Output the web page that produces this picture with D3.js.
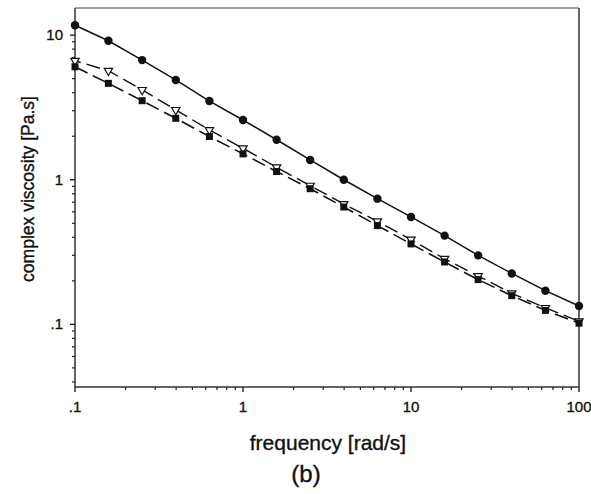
<!DOCTYPE html>
<html>
<head>
<meta charset="utf-8">
<script src="https://cdn.jsdelivr.net/npm/d3@7"></script>
<style>
  body { margin: 0; background: #fff; }
  text { font-family: "Liberation Sans", Arial, sans-serif; fill: #111; stroke: #111; stroke-width: 0.35; }
</style>
</head>
<body>
<div id="chart"></div>
<script>
// frequencies, 5 points per decade
let freq = [0.1, 0.158, 0.251, 0.398, 0.631, 1, 1.585, 2.51, 3.98, 6.31, 10, 15.85, 25.1, 39.8, 63.1, 100];

let circles   = [11.7, 9.14, 6.72, 4.9, 3.5, 2.59, 1.89, 1.37, 1.0, 0.74, 0.553, 0.411, 0.30, 0.225, 0.171, 0.134];
let triangles = [6.65, 5.67, 4.18, 3.04, 2.21, 1.65, 1.22, 0.91, 0.68, 0.516, 0.386, 0.284, 0.216, 0.164, 0.13, 0.105];
let squares   = [6.04, 4.64, 3.52, 2.66, 1.99, 1.51, 1.14, 0.867, 0.648, 0.482, 0.36, 0.27, 0.204, 0.158, 0.125, 0.102];

let xTicks = [0.1, 1, 10, 100];
let xTickLabels = [".1", "1", "10", "100"];
let yTicks = [0.1, 1, 10];
let yTickLabels = [".1", "1", "10"];

let svg = d3.select("#chart")
              .append("svg")
                .attr("width", 591)
                .attr("height", 494)
;

let pLeft = 75, pRight = 579, pTop = 8, pBottom = 387;

let x = d3.scaleLog().domain([0.1, 100]).range([pLeft, pRight]);
let y = d3.scaleLog().domain([0.0369, 15.4]).range([pBottom, pTop]);

// minor ticks
function minors(lo, hi) {
  let out = [];
  for (let p = -2; p <= 2; p++) {
    for (let m = 2; m <= 9; m++) {
      let v = m * Math.pow(10, p);
      if (v > lo && v < hi) out.push(v);
    }
  }
  return out;
}

// frame
svg.append("line").attr("x1", pRight).attr("x2", pRight).attr("y1", pTop).attr("y2", pBottom)
    .attr("stroke", "#333").attr("stroke-width", 1.5);
svg.append("line").attr("x1", pLeft).attr("x2", pRight).attr("y1", pTop).attr("y2", pTop)
    .attr("stroke", "#444").attr("stroke-width", 1.2);

// y axis
let yAxis = svg.append("g").attr("transform", "translate(" + pLeft + ",0)");
yAxis.append("line").attr("y1", pTop).attr("y2", pBottom).attr("stroke", "#333").attr("stroke-width", 1.5);
yAxis.selectAll(".minor").data(minors(0.0369, 15.4)).enter().append("line")
    .attr("x1", -3).attr("x2", 0)
    .attr("y1", d => y(d)).attr("y2", d => y(d))
    .attr("stroke", "#222").attr("stroke-width", 1.2);
yAxis.selectAll(".major").data(yTicks).enter().append("line")
    .attr("x1", -5).attr("x2", 0)
    .attr("y1", d => y(d)).attr("y2", d => y(d))
    .attr("stroke", "#222").attr("stroke-width", 1.4);
yAxis.selectAll(".lab").data(yTicks).enter().append("text")
    .attr("x", -12).attr("y", d => y(d) + 5)
    .attr("text-anchor", "end")
    .attr("font-size", 15)
    .text((d, i) => yTickLabels[i]);

// x axis
let xAxis = svg.append("g").attr("transform", "translate(0," + pBottom + ")");
xAxis.append("line").attr("x1", pLeft).attr("x2", pRight).attr("stroke", "#333").attr("stroke-width", 1.5);
xAxis.selectAll(".minor").data(minors(0.1, 100)).enter().append("line")
    .attr("x1", d => x(d)).attr("x2", d => x(d))
    .attr("y1", 0).attr("y2", 3)
    .attr("stroke", "#222").attr("stroke-width", 1.2);
xAxis.selectAll(".major").data(xTicks).enter().append("line")
    .attr("x1", d => x(d)).attr("x2", d => x(d))
    .attr("y1", 0).attr("y2", 5)
    .attr("stroke", "#222").attr("stroke-width", 1.4);
xAxis.selectAll(".lab").data(xTicks).enter().append("text")
    .attr("x", d => x(d)).attr("y", 25)
    .attr("text-anchor", "middle")
    .attr("font-size", 15)
    .text((d, i) => xTickLabels[i]);

// titles
svg.append("text").attr("x", 328).attr("y", 450).attr("text-anchor", "middle")
    .attr("font-size", 21).text("frequency [rad/s]");
svg.append("text").attr("x", 306).attr("y", 482).attr("text-anchor", "middle")
    .attr("font-size", 24).text("(b)");
svg.append("text").attr("transform", "translate(34,189) rotate(-90)")
    .attr("text-anchor", "middle")
    .attr("font-size", 17.5).text("complex viscosity [Pa.s]");

// lines
let line = d3.line()
                .x(function(d) { return x(d.f) })
                .y(function(d) { return y(d.v) })
;

function pts(vals) {
  return freq.map(function(f, i) { return {"f": f, "v": vals[i]}; });
}

svg.append("path").attr("d", line(pts(squares)))
    .attr("fill", "none").attr("stroke", "#111").attr("stroke-width", 1.6)
    .attr("stroke-dasharray", "14,6");
svg.append("path").attr("d", line(pts(triangles)))
    .attr("fill", "none").attr("stroke", "#111").attr("stroke-width", 1.4)
    .attr("stroke-dasharray", "14,6").attr("stroke-dashoffset", 8);
svg.append("path").attr("d", line(pts(circles)))
    .attr("fill", "none").attr("stroke", "#111").attr("stroke-width", 1.5);

// markers
let tri = d3.symbol().type(d3.symbolTriangle).size(30);
svg.selectAll(".tri").data(pts(triangles)).enter().append("path")
    .attr("d", tri)
    .attr("transform", d => "translate(" + x(d.f) + "," + y(d.v) + ") rotate(180)")
    .attr("fill", "#fff").attr("stroke", "#111").attr("stroke-width", 1.2);
svg.selectAll(".sq").data(pts(squares)).enter().append("rect")
    .attr("x", d => x(d.f) - 3.5).attr("y", d => y(d.v) - 3.5)
    .attr("width", 7).attr("height", 7)
    .attr("fill", "#111");
svg.selectAll(".ci").data(pts(circles)).enter().append("circle")
    .attr("cx", d => x(d.f)).attr("cy", d => y(d.v)).attr("r", 4.2)
    .attr("fill", "#111");
</script>
</body>
</html>
